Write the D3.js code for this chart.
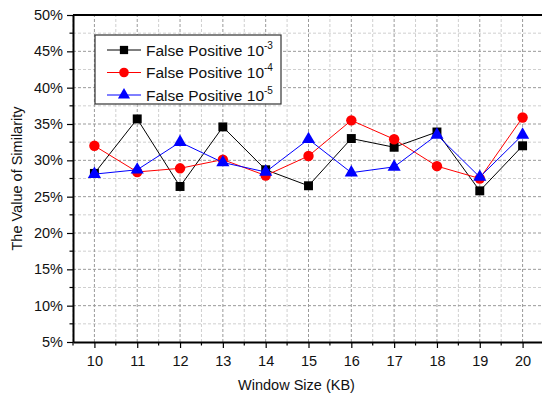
<!DOCTYPE html>
<html lang="en">
<head>
<meta charset="UTF-8">
<title>Similarity vs Window Size</title>
<script src="https://cdnjs.cloudflare.com/ajax/libs/d3/7.8.5/d3.min.js"></script>
<style>
  body { margin: 0; background: #fff; }
  text { font-family: "Liberation Sans", Arial, sans-serif; fill: #111; }
</style>
</head>
<body>
<div id="chart"></div>
<script>
// window sizes (KB)
const windowSizes = [10, 11, 12, 13, 14, 15, 16, 17, 18, 19, 20];
// similarity values (%)
const fp3 = [28.2, 35.7, 26.4, 34.6, 28.7, 26.5, 33.0, 31.8, 33.9, 25.8, 32.0];
const fp4 = [32.0, 28.4, 28.9, 30.1, 27.9, 30.6, 35.5, 32.9, 29.2, 27.5, 35.9];
const fp5 = [28.1, 28.7, 32.5, 29.7, 28.4, 32.9, 28.3, 29.1, 33.5, 27.7, 33.5];
const yTicks = [5, 10, 15, 20, 25, 30, 35, 40, 45, 50];

const series = [
  { name: "False Positive 10", exp: "-3", values: fp3, color: "#000", shape: d3.symbolSquare, size: 80 },
  { name: "False Positive 10", exp: "-4", values: fp4, color: "#ff0000", shape: d3.symbolCircle, size: 85 },
  { name: "False Positive 10", exp: "-5", values: fp5, color: "#0000ff", shape: d3.symbolTriangle, size: 75 }
];

const W = 542, H = 394;
const m = { left: 73, top: 15, right: -2, bottom: 52 };

const svg = d3.select("#chart").append("svg").attr("width", W).attr("height", H);

const x = d3.scaleLinear().domain([9.5, 20.5]).range([m.left, W - m.right]);
const y = d3.scaleLinear().domain([5, 50]).range([H - m.bottom, m.top]);

// grid
const g = svg.append("g");
const minorX = d3.range(9.5, 20.6, 1);
const minorY = d3.range(7.5, 50, 5);
g.selectAll(".mx").data(minorX).enter().append("line")
  .attr("x1", d => x(d)).attr("x2", d => x(d)).attr("y1", y(5)).attr("y2", y(50))
  .attr("stroke", "#cfcfcf").attr("stroke-dasharray", "3,2");
g.selectAll(".my").data(minorY).enter().append("line")
  .attr("x1", x(9.5)).attr("x2", x(20.5)).attr("y1", d => y(d)).attr("y2", d => y(d))
  .attr("stroke", "#cfcfcf").attr("stroke-dasharray", "3,2");
g.selectAll(".gx").data(windowSizes).enter().append("line")
  .attr("x1", d => x(d)).attr("x2", d => x(d)).attr("y1", y(5)).attr("y2", y(50))
  .attr("stroke", "#9a9a9a").attr("stroke-dasharray", "3,2");
g.selectAll(".gy").data(yTicks.slice(1, -1)).enter().append("line")
  .attr("x1", x(9.5)).attr("x2", x(20.5)).attr("y1", d => y(d)).attr("y2", d => y(d))
  .attr("stroke", "#9a9a9a").attr("stroke-dasharray", "3,2");

// axes
const xAxis = svg.append("g").attr("transform", `translate(0,${y(5)})`)
  .call(d3.axisBottom(x).tickValues(windowSizes).tickSize(6).tickSizeOuter(0).tickPadding(8));
const yAxis = svg.append("g").attr("transform", `translate(${x(9.5)},0)`)
  .call(d3.axisLeft(y).tickValues(yTicks).tickFormat(d => d + "%").tickSize(6).tickSizeOuter(0).tickPadding(4));
[xAxis, yAxis].forEach(a => {
  a.select(".domain").attr("stroke", "#000").attr("stroke-width", 2);
  a.selectAll(".tick line").attr("stroke", "#000").attr("stroke-width", 1.2);
  a.selectAll("text").style("font-size", "14.5px").attr("fill", "#111");
});
// minor ticks
svg.append("g").selectAll("line").data(minorX).enter().append("line")
  .attr("x1", d => x(d)).attr("x2", d => x(d)).attr("y1", y(5)).attr("y2", y(5) + 3.5)
  .attr("stroke", "#000").attr("stroke-width", 1.2);
svg.append("g").selectAll("line").data(minorY).enter().append("line")
  .attr("x1", x(9.5) - 3.5).attr("x2", x(9.5)).attr("y1", d => y(d)).attr("y2", d => y(d))
  .attr("stroke", "#000").attr("stroke-width", 1.2);
// top border
svg.append("line").attr("x1", x(9.5)).attr("x2", W).attr("y1", y(50)).attr("y2", y(50))
  .attr("stroke", "#000").attr("stroke-width", 2);

// axis titles
svg.append("text").attr("x", (x(9.5) + x(20.5)) / 2 - 12).attr("y", 390)
  .attr("text-anchor", "middle").style("font-size", "14.5px").text("Window Size (KB)");
svg.append("text").attr("transform", `translate(22,${(y(5) + y(50)) / 2}) rotate(-90)`)
  .attr("text-anchor", "middle").style("font-size", "14.5px").text("The Value of Similarity");

// series
const line = d3.line().x((d, i) => x(windowSizes[i])).y(d => y(d));
series.forEach(s => {
  svg.append("path").datum(s.values).attr("d", line)
    .attr("fill", "none").attr("stroke", s.color).attr("stroke-width", 1);
  svg.append("g").selectAll("path").data(s.values).enter().append("path")
    .attr("transform", (d, i) => `translate(${x(windowSizes[i])},${y(d)})`)
    .attr("d", d3.symbol().type(s.shape).size(s.size))
    .attr("fill", s.color);
});

// legend
const lg = svg.append("g").attr("transform", "translate(95,35)");
lg.append("rect").attr("width", 186).attr("height", 69)
  .attr("fill", "#fff").attr("stroke", "#333").attr("stroke-width", 1.2);
series.forEach((s, i) => {
  const cy = 15 + i * 22.5;
  lg.append("line").attr("x1", 12).attr("x2", 46).attr("y1", cy).attr("y2", cy)
    .attr("stroke", s.color).attr("stroke-width", 1);
  lg.append("path").attr("transform", `translate(29,${cy})`)
    .attr("d", d3.symbol().type(s.shape).size(s.size * 0.85)).attr("fill", s.color);
  const t = lg.append("text").attr("x", 51).attr("y", cy + 5.5).style("font-size", "15.5px");
  t.append("tspan").text(s.name);
  t.append("tspan").attr("dy", -7).style("font-size", "10px").text(s.exp);
});
</script>
</body>
</html>
